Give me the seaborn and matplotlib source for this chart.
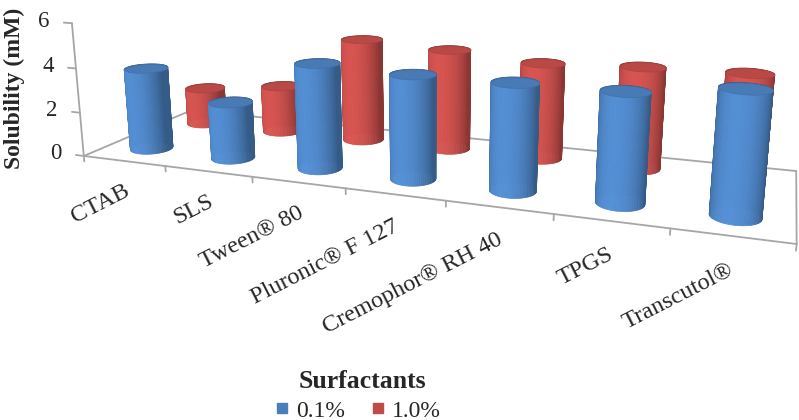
import numpy as np
import matplotlib
matplotlib.use("Agg")
import matplotlib.pyplot as plt
import seaborn as sns
from matplotlib.colors import to_rgb
from matplotlib.lines import Line2D
from mpl_toolkits.mplot3d import proj3d
from mpl_toolkits.mplot3d.art3d import Poly3DCollection

# data
surfactants = ["CTAB", "SLS", "Tween® 80", "Pluronic® F 127",
               "Cremophor® RH 40", "TPGS", "Transcutol®"]
conc_labels = ["0.1%", "1.0%"]
sol_01 = [3.75, 2.55, 4.6, 4.45, 4.45, 4.45, 4.9]
sol_10 = [1.8, 2.25, 4.8, 4.6, 4.3, 4.45, 4.5]
y_ticks = [0, 2, 4, 6]

sns.set_theme(style="white")
plt.rcParams["font.family"] = ["Liberation Serif", "DejaVu Serif"]
palette = sns.color_palette(["#4a7ebb", "#be4b48"])

W, H = 799, 420
RADIUS = 0.22         # cylinder radius in category widths

# where the floor corners, value axis and category ticks sit in the picture
# (pixel positions, used only to pick the camera of the 3d view)
land_3d = np.array([[-0.5, 0, 0], [6.5, 0, 0], [-0.5, 2, 0], [6.5, 2, 0],
                    [-0.5, 0, 6], [-0.5, 0, 4], [-0.5, 0, 2],
                    [0.5, 0, 0], [1.5, 0, 0], [2.5, 0, 0], [3.5, 0, 0],
                    [4.5, 0, 0], [5.5, 0, 0]], dtype=float)
land_px = np.array([[85, 153], [797, 242], [190, 112], [797, 168],
                    [73, 24], [76, 68], [80, 111],
                    [165, 167], [252, 178], [345, 190], [445, 202],
                    [554, 215], [670, 230]], dtype=float)
land_px[:, 1] = H - land_px[:, 1]

fig = plt.figure(figsize=(W / 100, H / 100), dpi=100)
ax = fig.add_axes([0.1, 0.1, 0.5, 0.5], projection="3d",
                  computed_zorder=False)
ax.set_xlim(-0.5, 6.5)
ax.set_ylim(0, 2)
ax.set_zlim(0, 6)
ax.set_axis_off()


def set_view(p):
    elev, azim, focal, depth, height = p
    ax.set_box_aspect((7, depth, height))
    ax.view_init(elev=elev, azim=azim)
    ax.set_proj_type("persp", focal_length=focal)


def project(pts):
    xs, ys, _ = proj3d.proj_transform(pts[:, 0], pts[:, 1], pts[:, 2],
                                      ax.get_proj())
    return np.column_stack([xs, ys])


def view_cost(p):
    set_view(p)
    pr = project(land_3d)
    pc = pr - pr.mean(0)
    qc = land_px - land_px.mean(0)
    s = (pc * qc).sum() / (pc ** 2).sum()
    return ((qc - s * pc) ** 2).sum(), s, land_px.mean(0) - s * pr.mean(0)


params = np.array([14.0, -66.0, 0.16, 1.3, 1.3])
steps = np.array([4.0, 6.0, 0.05, 0.4, 0.3])
lower = np.array([2.0, -89.0, 0.04, 0.3, 0.4])
best = view_cost(params)[0]
for _ in range(80):
    improved = False
    for i in range(len(params)):
        for sgn in (1, -1):
            trial = params.copy()
            trial[i] += sgn * steps[i]
            if np.any(trial < lower):
                continue
            c = view_cost(trial)[0]
            if c < best:
                best, params, improved = c, trial, True
    if not improved:
        steps /= 2
        if steps[0] < 0.01:
            break

_, scale, shift = view_cost(params)
DEPTH = params[3]

# place the square 3d axes so projected coordinates land on those pixels
fig.canvas.draw()
bb = ax.get_position()
ox, oy, s_cur = bb.x0 * W, bb.y0 * H, bb.width * W
p0 = ax.transData.transform((0, 0))
k = (ax.transData.transform((1, 0))[0] - p0[0]) / s_cur
c0 = (p0 - np.array([ox, oy])) / s_cur
s_new = scale / k
o_new = shift - s_new * c0
ax.set_position([o_new[0] / W, o_new[1] / H, s_new / W, s_new / H])


# depth of the two rows of cylinders, from where their bases sit
def row_depth(xs, targets):
    cand = np.linspace(0, 2, 401)
    errs = []
    for yv in cand:
        pts = np.column_stack([xs, np.full(len(xs), yv), np.zeros(len(xs))])
        pr = project(pts) * scale + shift
        errs.append(((pr - targets) ** 2).sum())
    return cand[int(np.argmin(errs))]


ROW_Y = [row_depth(np.array([0, 6]),
                   np.array([[150, H - 145], [741, H - 217]])),
         row_depth(np.array([0, 3, 4]),
                   np.array([[205, H - 121], [449, H - 148], [542, H - 157]]))]

az = np.deg2rad(params[1])
cam = np.array([np.cos(az), np.sin(az)])
left = np.array([np.sin(az), -np.cos(az)])
light = cam + 0.6 * left
light /= np.linalg.norm(light)


def shade(color, f):
    r, g, b = to_rgb(color)
    return (min(r * f, 1), min(g * f, 1), min(b * f, 1))


def cylinder(xc, yc, h, color):
    rx = RADIUS
    ry = RADIUS / (DEPTH / 2)
    th = np.linspace(0, 2 * np.pi, 73)
    xs = xc + rx * np.cos(th)
    ys = yc + ry * np.sin(th)
    sides, cols = [], []
    for j in range(len(th) - 1):
        sides.append([(xs[j], ys[j], 0), (xs[j + 1], ys[j + 1], 0),
                      (xs[j + 1], ys[j + 1], h), (xs[j], ys[j], h)])
        mid = 0.5 * (th[j] + th[j + 1])
        d = np.clip(np.cos(mid) * light[0] + np.sin(mid) * light[1], 0, 1)
        cols.append(shade(color, 0.72 + 0.42 * d))
    body = Poly3DCollection(sides, facecolors=cols, edgecolors=cols,
                            linewidths=0.5, zorder=2)
    ax.add_collection3d(body)
    body.set_clip_on(False)
    top = Poly3DCollection([list(zip(xs, ys, np.full_like(xs, h)))],
                           facecolors=[shade(color, 0.97)],
                           edgecolors=[shade(color, 0.9)],
                           linewidths=0.5, zorder=2)
    ax.add_collection3d(top)
    top.set_clip_on(False)


xpos = np.arange(len(surfactants))
grey = "#a6a6a6"
line_kw = dict(color=grey, lw=1.3, zorder=1, clip_on=False)

# floor outline and value axis
ax.plot([-0.5, 6.5], [0, 0], [0, 0], **line_kw)
ax.plot([-0.5, 6.5], [2, 2], [0, 0], **line_kw)
ax.plot([-0.5, -0.5], [0, 2], [0, 0], **line_kw)
ax.plot([6.5, 6.5], [0, 2], [0, 0], **line_kw)
ax.plot([-0.5, -0.5], [0, 0], [0, 6], **line_kw)
for v in y_ticks:
    ax.plot([-0.6, -0.5], [0, 0], [v, v], **line_kw)
    ax.text(-0.78, 0, v, str(v), zdir=None, ha="right", va="center",
            fontsize=16.5, zorder=3)
for b in np.arange(-0.5, 7, 1):
    ax.plot([b, b], [0, 0], [0, -0.25], **line_kw)

# back row first, then the front row
for i, v in enumerate(sol_10):
    cylinder(xpos[i], ROW_Y[1], v, palette[1])
for i, v in enumerate(sol_01):
    cylinder(xpos[i], ROW_Y[0], v, palette[0])

M = ax.get_proj()
for i, name in enumerate(surfactants):
    xp, yp, _ = proj3d.proj_transform(xpos[i] - 0.02, 0, -0.9, M)
    ax.text2D(xp, yp, name, transform=ax.transData, rotation=27,
              rotation_mode="anchor", ha="right", va="top", fontsize=17.5,
              zorder=3)

ax.set_xlim(-0.5, 6.5)
ax.set_ylim(0, 2)
ax.set_zlim(0, 6)

fig.text(0.018, 0.79, "Solubility (mM)", rotation=90, ha="center",
         va="center", fontsize=17, fontweight="bold")
fig.text(362 / W, 1 - 381 / H, "Surfactants", ha="center", va="center",
         fontsize=18.5, fontweight="bold")
handles = [Line2D([], [], ls="none", marker="s", markersize=7,
                  markerfacecolor=c, markeredgecolor=c) for c in palette]
fig.legend(handles, conc_labels, loc="center", ncol=2, frameon=False,
           bbox_to_anchor=(357 / W, 1 - 411 / H), fontsize=17,
           handletextpad=0.2, columnspacing=1.0, handlelength=0.8)

fig.savefig("out.png", dpi=100)
